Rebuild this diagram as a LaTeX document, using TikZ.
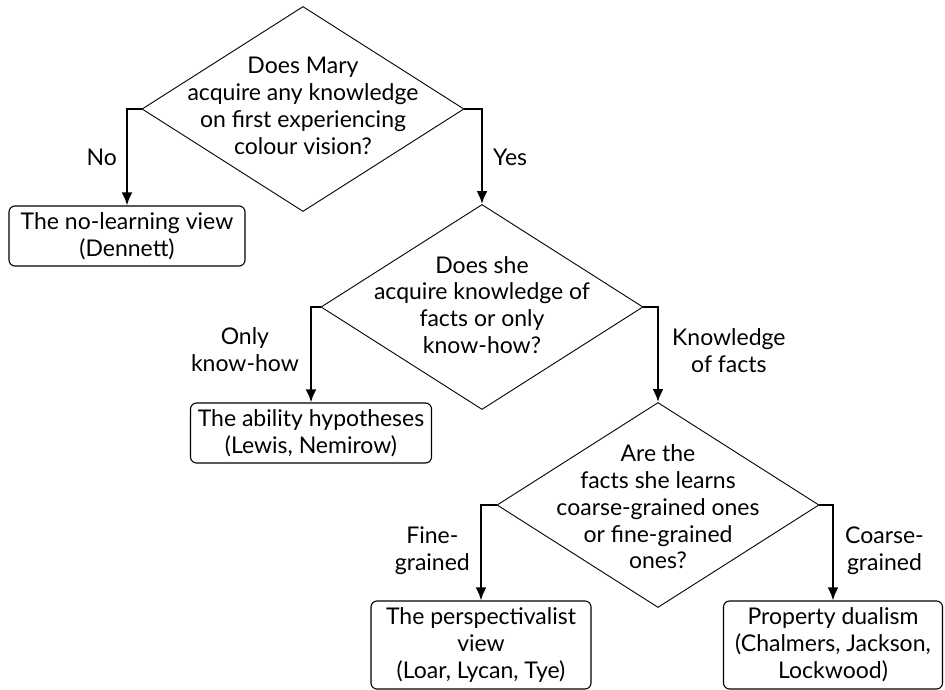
\documentclass[tikz,border=0pt]{standalone}
\usepackage{fontspec}
\setmainfont{Lato}
\usetikzlibrary{shapes.geometric,arrows.meta,positioning}

\begin{document}
\begin{tikzpicture}[x=1pt,y=-1pt,>={Latex[length=13pt,width=11pt]},
    font=\fontsize{23}{26.8}\selectfont,
    decision/.style={diamond, draw, line width=0.9pt, minimum width=322,
      minimum height=205, inner sep=0},
    qtext/.style={align=center, inner sep=0},
    answer/.style={rectangle, rounded corners=6, draw, line width=1.1pt,
      align=center, inner sep=0},
    branch/.style={->, line width=2.3pt},
    lbl/.style={align=center, inner sep=0}]

    \useasboundingbox (0,0) rectangle (945,690);

    % questions
    \node[decision] (q1) at (303,109) {};
    \node[qtext] (q1text) at (303,106) {Does Mary\\acquire any knowledge\\on
      first experiencing\\colour vision?};

    \node[decision] (q2) at (482,307) {};
    \node[qtext] (q2text) at (482,305) {Does she\\acquire knowledge of\\facts
      or only\\know-how?};

    \node[decision] (q3) at (658,505) {};
    \node[qtext] (q3text) at (658,507) {Are the\\facts she learns\\coarse-grained
      ones\\or fine-grained\\ones?};

    % answers
    \node[answer, minimum width=236, minimum height=60] (nolearn) at (127,236)
    {The no-learning view\\(Dennett)};
    \node[answer, minimum width=241, minimum height=60] (ability) at (311,433)
    {The ability hypotheses\\(Lewis, Nemirow)};
    \node[answer, minimum width=220, minimum height=88] (persp) at (481,645)
    {The perspectivalist\\view\\(Loar, Lycan, Tye)};
    \node[answer, minimum width=219, minimum height=88] (dualism) at (833,645)
    {Property dualism\\(Chalmers, Jackson,\\Lockwood)};

    % branches
    \draw[branch] (q1.west) -| (nolearn.north);
    \draw[branch] (q1.east) -| (q2.north);
    \draw[branch] (q2.west) -| (ability.north);
    \draw[branch] (q2.east) -| (q3.north);
    \draw[branch] (q3.west) -| (persp.north);
    \draw[branch] (q3.east) -| (dualism.north);

    % branch labels
    \node[lbl, anchor=east] (lno) at (117,157) {No};
    \node[lbl, anchor=west] (lyes) at (493,157) {Yes};
    \node[lbl, anchor=east] (lhow) at (299,350) {Only\\know-how};
    \node[lbl, anchor=west] (lfacts) at (672,351) {Knowledge\\of facts};
    \node[lbl, anchor=east] (lfine) at (470,551) {Fine-\\grained};
    \node[lbl, anchor=west] (lcoarse) at (845,551) {Coarse-\\grained};

\end{tikzpicture}
\end{document}
